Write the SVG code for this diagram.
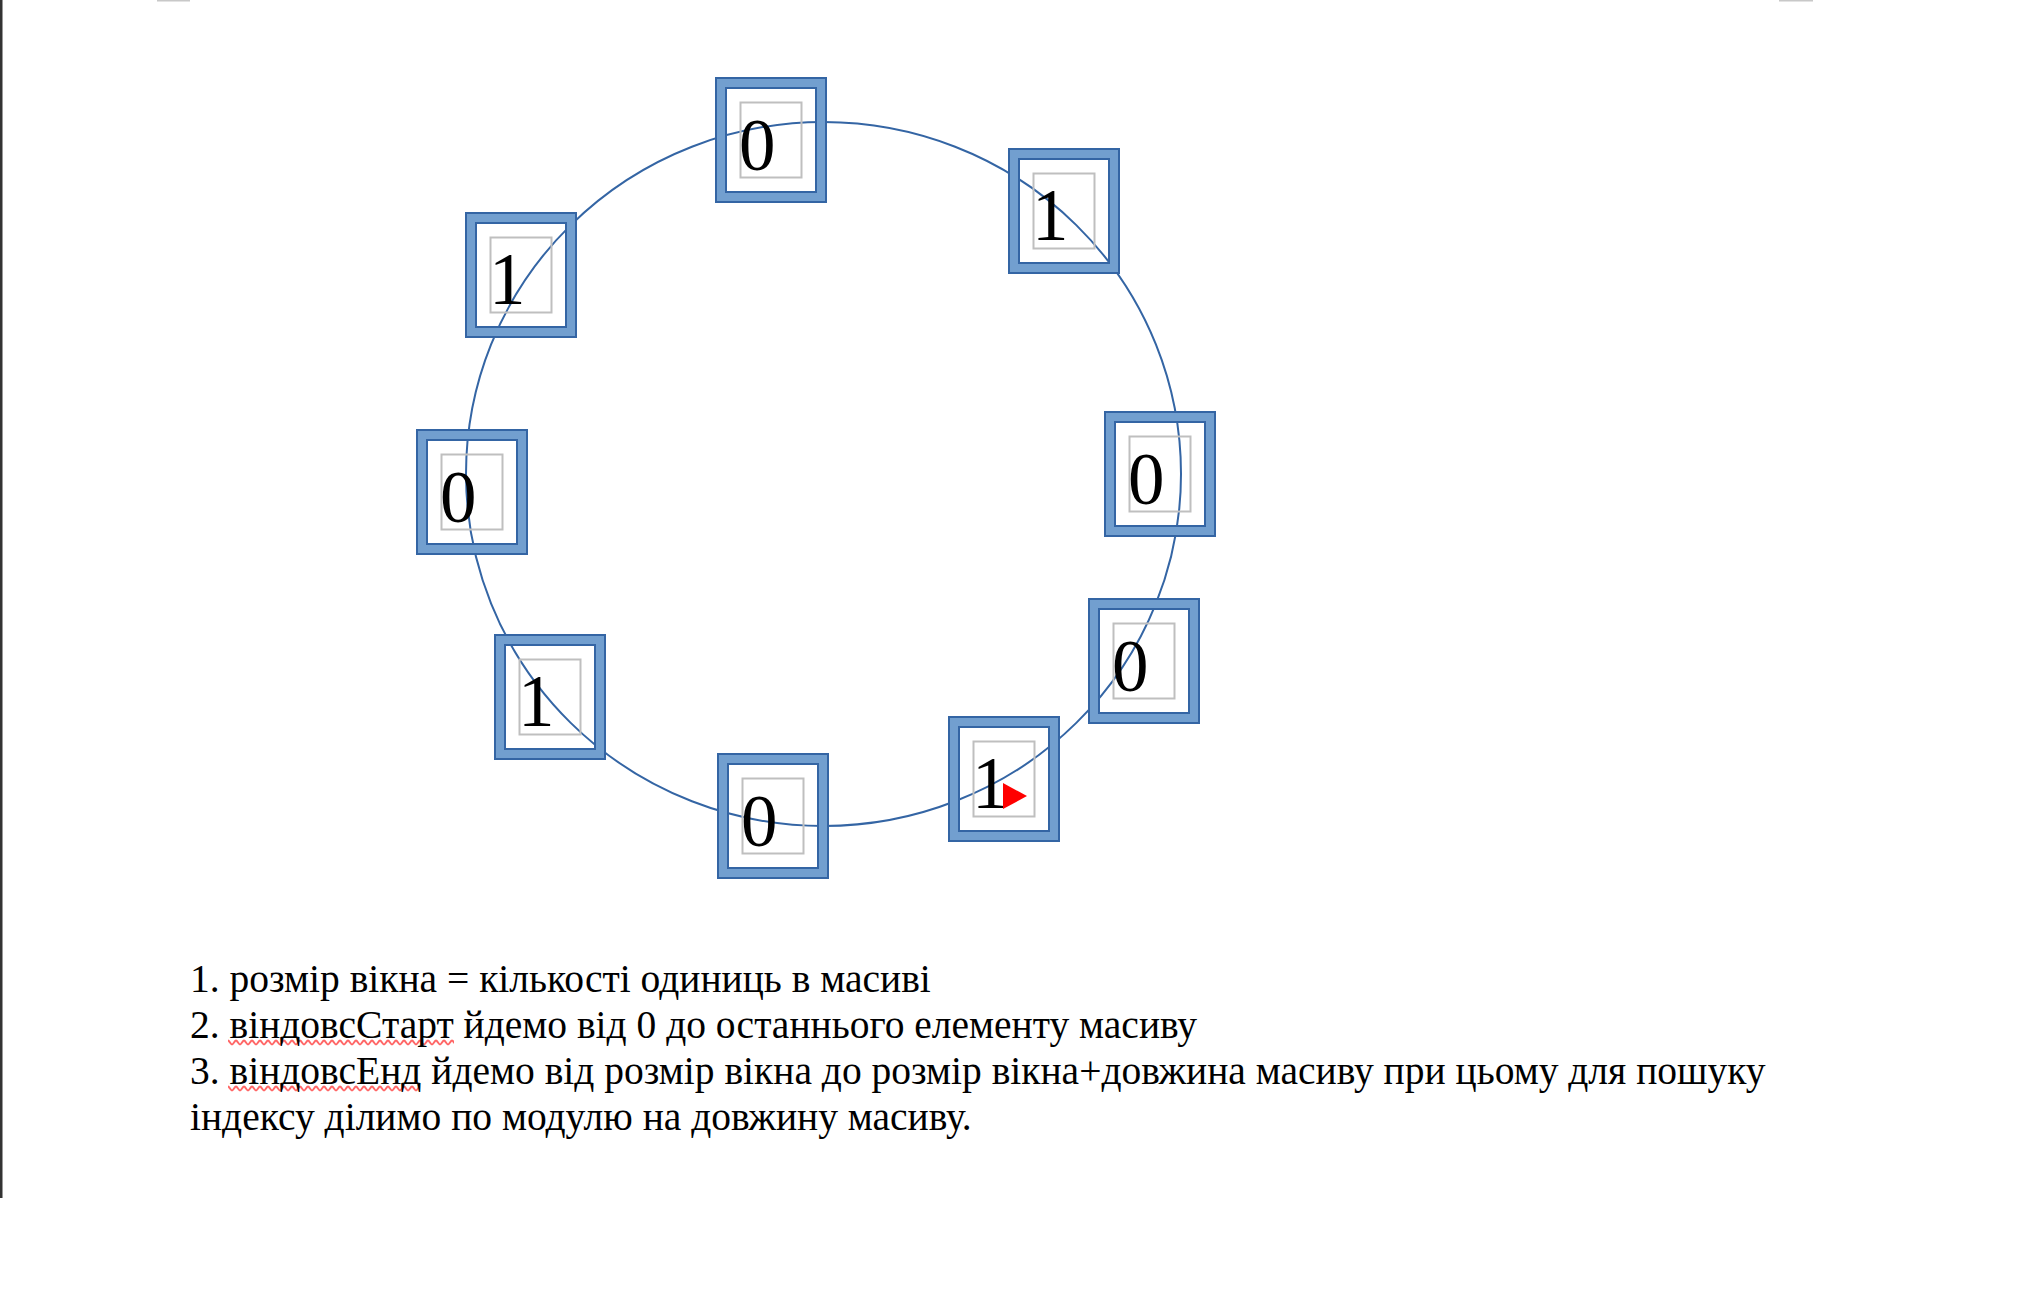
<svg xmlns="http://www.w3.org/2000/svg" width="2042" height="1306" viewBox="0 0 2042 1306">
<defs>
<style>
.frame{fill:#729fcf;stroke:#3465a4;stroke-width:2;fill-rule:evenodd}
.inner{fill:none;stroke:#bfbfbf;stroke-width:2}
.digit{font-family:"Liberation Serif",serif;font-size:73px;fill:#000}
.note{font-family:"Liberation Serif",serif;font-size:39.5px;fill:#000}
.ring{fill:none;stroke:#3465a4;stroke-width:2}
</style>
<pattern id="wave" x="0" y="1039" width="8" height="46" patternUnits="userSpaceOnUse">
<path d="M0,5.5 C1.3,5.5 2.7,1.5 4,1.5 S6.7,5.5 8,5.5" fill="none" stroke="#f55" stroke-opacity="0.9" stroke-width="2"/>
</pattern>
<g id="box">
<path class="frame" d="M1,1 H111 V125 H1 Z M11,11 V115 H101 V11 Z"/>
<rect class="inner" x="25.5" y="25.5" width="61" height="75"/>
</g>
</defs>
<rect width="2042" height="1306" fill="#fff"/>
<rect x="0" y="0" width="2.5" height="1198" fill="#333"/>
<rect x="157" y="0" width="33" height="1.5" fill="#c8c8c8"/>
<rect x="1779" y="0" width="34" height="1.5" fill="#c8c8c8"/>
<g id="ring"><ellipse class="ring" cx="823.5" cy="474" rx="357.5" ry="352"/></g>
<g id="connectors"></g>
<g id="n1" transform="translate(715,77)"><use href="#box"/><text class="digit" x="24" y="93">0</text></g>
<g id="n2" transform="translate(1008,148)"><use href="#box"/><text class="digit" x="24" y="92">1</text></g>
<g id="n3" transform="translate(1104,411)"><use href="#box"/><text class="digit" x="24" y="93">0</text></g>
<g id="n4" transform="translate(1088,598)"><use href="#box"/><text class="digit" x="24" y="93">0</text></g>
<g id="n5" transform="translate(948,716)"><use href="#box"/><text class="digit" x="24" y="92">1</text><polygon points="55,67 79,80 55,93" fill="#ff0000"/></g>
<g id="n6" transform="translate(717,753)"><use href="#box"/><text class="digit" x="24" y="93">0</text></g>
<g id="n7" transform="translate(494,634)"><use href="#box"/><text class="digit" x="24" y="92">1</text></g>
<g id="n8" transform="translate(416,429)"><use href="#box"/><text class="digit" x="24" y="93">0</text></g>
<g id="n9" transform="translate(465,212)"><use href="#box"/><text class="digit" x="24" y="92">1</text></g>
<g id="notes">
<rect x="228" y="1039" width="226" height="8" fill="url(#wave)"/>
<rect x="228" y="1085" width="190" height="8" fill="url(#wave)"/>
<text class="note" x="190" y="992">1. розмір вікна = кількості одиниць в масиві</text>
<text class="note" x="190" y="1038">2. віндовсСтарт йдемо від 0 до останнього елементу масиву</text>
<text class="note" x="190" y="1084">3. віндовсЕнд йдемо від розмір вікна до розмір вікна+довжина масиву при цьому для пошуку</text>
<text class="note" x="190" y="1130">індексу ділимо по модулю на довжину масиву.</text>
</g>
</svg>
